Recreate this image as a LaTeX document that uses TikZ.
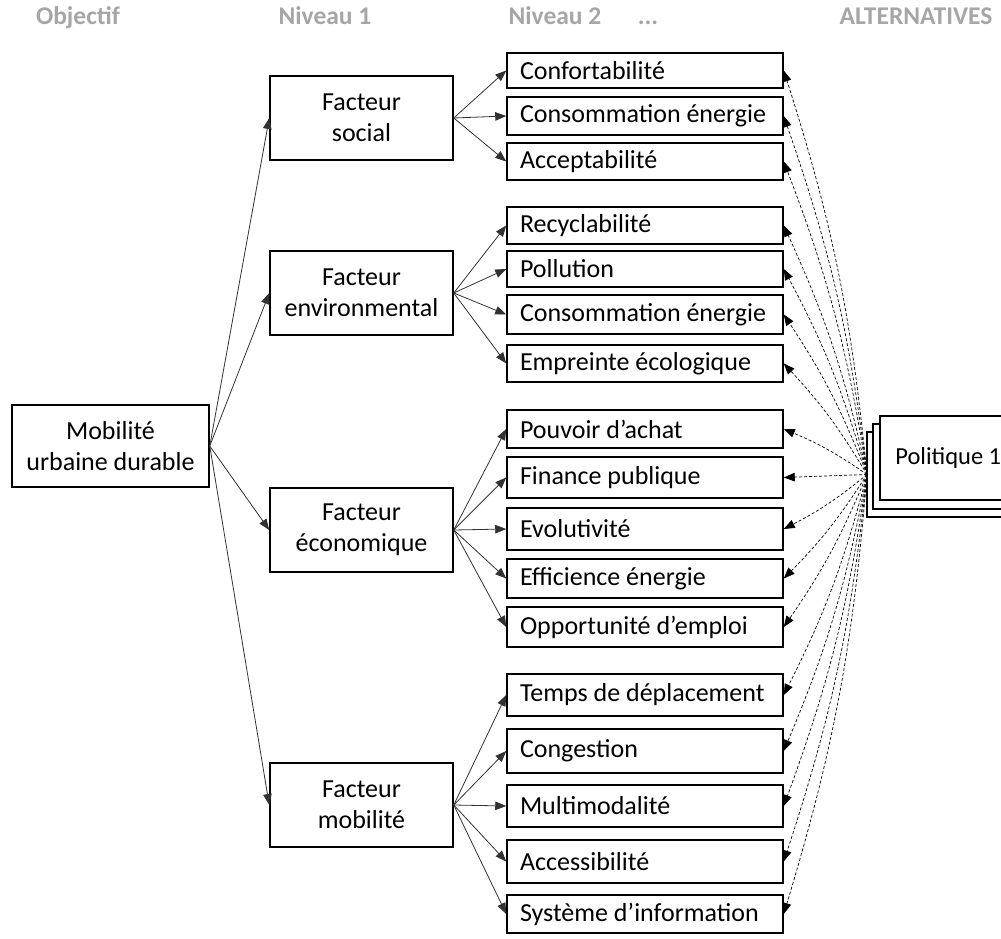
\documentclass[tikz,border=0pt]{standalone}
\usepackage{fontspec}
\setmainfont{Carlito}
\usetikzlibrary{arrows.meta}
\definecolor{hdrgray}{RGB}{166,166,166}
\definecolor{lncol}{RGB}{50,50,50}
\newcommand{\lefttxt}[1]{\makebox[250pt][l]{#1}}
\begin{document}
\begin{tikzpicture}[x=1pt,y=-1pt,
  every node/.style={font=\fontsize{26}{31}\selectfont},
  box/.style={draw=black, line width=1.5pt, fill=white, inner sep=0pt},
  lone/.style={box, minimum width=183pt, minimum height=84pt, align=center},
  ltwo/.style={box, inner xsep=13pt, minimum height=#1},
  hdr/.style={font=\fontsize{25.5}{30}\selectfont\bfseries, text=hdrgray, anchor=base, inner sep=0pt},
  arr/.style={draw=lncol, line width=0.8pt, -{Triangle[length=11pt,width=8.5pt]}},
  dsh/.style={draw=black, line width=0.7pt, dash pattern=on 3pt off 2pt, -{Triangle[length=11pt,width=8.5pt]}},
]
\useasboundingbox (0,0) rectangle (1001,939);

% headers
\node[hdr] (h0) at (78,25) {Objectif};
\node[hdr] (h1) at (325,25) {Niveau 1};
\node[hdr] (h2) at (555,25) {Niveau 2};
\node[hdr] (h3) at (648,25) {...};
\node[hdr] (h4) at (916,25) {ALTERNATIVES};

% objective
\node[box, minimum width=197pt, minimum height=82pt, align=center] (m) at (110.5,446) {Mobilité\\urbaine durable};

% level 1
\node[lone] (s1) at (361.5,118) {Facteur\\social};
\node[lone] (s2) at (361.5,293) {Facteur\\environmental};
\node[lone] (s3) at (361.5,530) {Facteur\\économique};
\node[lone] (s4) at (361.5,805) {Facteur\\mobilité};

% level 2
\node[ltwo=35pt] (a1) at (645,70.5) {\lefttxt{Confortabilité}};
\node[ltwo=38pt] (a2) at (645,116) {\lefttxt{Consommation énergie}};
\node[ltwo=37pt] (a3) at (645,161.5) {\lefttxt{Acceptabilité}};
\node[ltwo=37pt] (b1) at (645,225.5) {\lefttxt{Recyclabilité}};
\node[ltwo=36pt] (b2) at (645,269) {\lefttxt{Pollution}};
\node[ltwo=39pt] (b3) at (645,314.5) {\lefttxt{Consommation énergie}};
\node[ltwo=37pt] (b4) at (645,363.5) {\lefttxt{Empreinte écologique}};
\node[ltwo=38pt] (c1) at (645,429) {\lefttxt{Pouvoir d’achat}};
\node[ltwo=41pt] (c2) at (645,477.5) {\lefttxt{Finance publique}};
\node[ltwo=42pt] (c3) at (645,529) {\lefttxt{Evolutivité}};
\node[ltwo=39pt] (c4) at (645,578.5) {\lefttxt{Efficience énergie}};
\node[ltwo=40pt] (c5) at (645,627) {\lefttxt{Opportunité d’emploi}};
\node[ltwo=42pt] (d1) at (645,695) {\lefttxt{Temps de déplacement}};
\node[ltwo=44pt] (d2) at (645,751) {\lefttxt{Congestion}};
\node[ltwo=42pt] (d3) at (645,806) {\lefttxt{Multimodalité}};
\node[ltwo=43pt] (d4) at (645,861.5) {\lefttxt{Accessibilité}};
\node[ltwo=38pt] (d5) at (645,914) {\lefttxt{Système d’information}};

% objective -> level 1
\foreach \t in {s1,s2,s3,s4} \draw[arr] (m.east) -- (\t.west);

% level 1 -> level 2
\foreach \t in {a1,a2,a3} \draw[arr] (s1.east) -- (\t.west);
\foreach \t in {b1,b2,b3,b4} \draw[arr] (s2.east) -- (\t.west);
\foreach \t in {c1,c2,c3,c4,c5} \draw[arr] (s3.east) -- (\t.west);
\foreach \t in {d1,d2,d3,d4,d5} \draw[arr] (s4.east) -- (\t.west);

% alternatives: dashed links from the stack
\coordinate (porig) at (867,474.5);
\foreach \t in {a1,a2,a3,b1,b2,b3,b4,c1} \draw[dsh] (porig) to[bend right=6] (\t.east);
\draw[dsh] (porig) -- (c2.east);
\foreach \t in {c3,c4,c5,d1,d2,d3,d4,d5} \draw[dsh] (porig) to[bend left=6] (\t.east);

\node[box, minimum width=143pt, minimum height=85pt] (p3) at (938.5,474.5) {};
\node[box, minimum width=137pt, minimum height=85pt] (p2) at (941.5,466.5) {};
\node[box, minimum width=137pt, minimum height=84pt, anchor=west, inner xsep=13pt, font=\fontsize{24.5}{30}\selectfont] (p1) at (879,458) {Politique 1};
\end{tikzpicture}
\end{document}
